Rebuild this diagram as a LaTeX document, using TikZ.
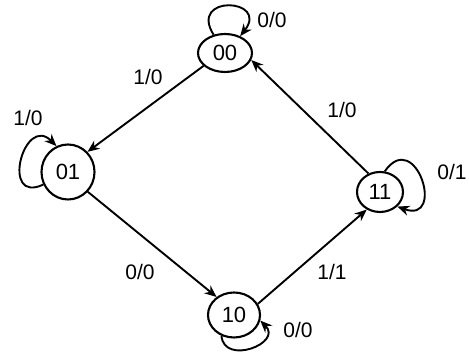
\documentclass[tikz,border=0pt]{standalone}
\usepackage{fontspec}
\setmainfont{Liberation Sans}
\usetikzlibrary{arrows.meta,shapes.geometric}

\begin{document}
\begin{tikzpicture}[x=1pt,y=1pt,
  state/.style={draw, ellipse, line width=2.1pt, inner sep=0pt,
    font=\fontsize{22}{22}\selectfont},
  trans/.style={line width=1.9pt, -{Stealth[length=12pt,width=10pt]}},
  lbl/.style={font=\fontsize{21}{21}\selectfont, inner sep=0pt}]
\useasboundingbox (0,0) rectangle (469,352);

% states
\node[state, minimum width=54pt, minimum height=38pt] (n00) at (225,299) {00};
\node[state, minimum width=53pt, minimum height=55pt] (n01) at (68,180) {01};
\node[state, minimum width=46pt, minimum height=40pt] (n11) at (380,160) {11};
\node[state, minimum width=52pt, minimum height=45pt] (n10) at (234,37) {10};

% self-loops
\draw[trans] (n00.122) .. controls +(122:48) and +(52:48) .. (n00.48);
\draw[trans] (n01.207) .. controls +(205:48) and +(135:46) .. (n01.114);
\draw[trans] (n11.77) .. controls +(55:54) and +(-20:52) .. (n11.-40);
\draw[trans] (n10.239) .. controls +(-85:30) and +(-45:32) .. (n10.-12);

% transitions between states
\draw[trans] (n00.211) -- (n01.46);
\draw[trans] (n01.-45) -- (n10.134);
\draw[trans] (n10.25) -- (n11.233);
\draw[trans] (n11.122) -- (n00.-15);

% input/output labels
\node[lbl] (l00) at (272,332) {0/0};
\node[lbl] (l0001) at (148,275) {1/0};
\node[lbl] (l01) at (28,234) {1/0};
\node[lbl] (l0110) at (140,80) {0/0};
\node[lbl] (l1011) at (332,80) {1/1};
\node[lbl] (l10) at (298,22) {0/0};
\node[lbl] (l1100) at (342,242) {1/0};
\node[lbl] (l11) at (452,180) {0/1};
\end{tikzpicture}
\end{document}
